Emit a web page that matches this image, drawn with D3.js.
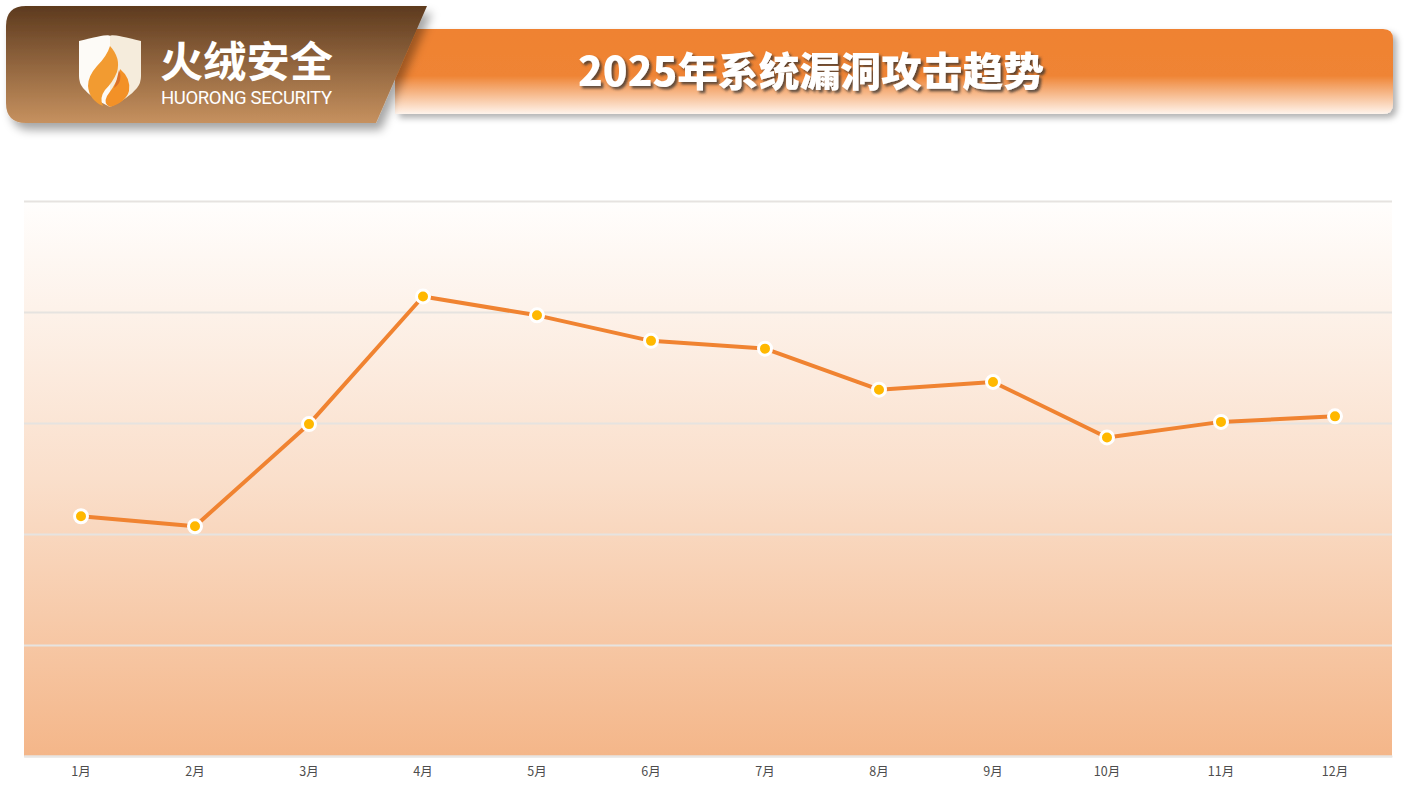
<!DOCTYPE html>
<html>
<head>
<meta charset="utf-8">
<script src="https://cdn.jsdelivr.net/npm/d3@7"></script>
<style>
html,body{margin:0;padding:0;background:#fff;}
svg{display:block;}
</style>
</head>
<body>
<svg id="chart" width="1424" height="795"></svg>
<script>
const months = ["1月","2月","3月","4月","5月","6月","7月","8月","9月","10月","11月","12月"];
const attacks = [216, 207, 299, 414, 397, 374, 367, 330, 337, 287, 301, 306];
const yTicks = [0, 100, 200, 300, 400, 500];
const titleText = "2025年系统漏洞攻击趋势";
const brandCN = "火绒安全";
const brandEN = "HUORONG SECURITY";

const svg = d3.select("#chart");
const defs = svg.append("defs");

// gradients
const g1 = defs.append("linearGradient").attr("id","plotBg").attr("x1",0).attr("y1",0).attr("x2",0).attr("y2",1);
g1.append("stop").attr("offset","0%").attr("stop-color","#fffefd");
g1.append("stop").attr("offset","50%").attr("stop-color","#fadfcb");
g1.append("stop").attr("offset","100%").attr("stop-color","#f4b689");

const g2 = defs.append("linearGradient").attr("id","brownBg").attr("x1",0).attr("y1",0).attr("x2",0).attr("y2",1);
g2.append("stop").attr("offset","0%").attr("stop-color","#5d3a1e");
g2.append("stop").attr("offset","100%").attr("stop-color","#c6915f");

const g3 = defs.append("linearGradient").attr("id","orangeBg").attr("x1",0).attr("y1",0).attr("x2",0).attr("y2",1);
g3.append("stop").attr("offset","0%").attr("stop-color","#ef8232");
g3.append("stop").attr("offset","55%").attr("stop-color","#ef8434");
g3.append("stop").attr("offset","100%").attr("stop-color","#fff4ec");

const f1 = defs.append("filter").attr("id","boxShadow").attr("x","-10%").attr("y","-20%").attr("width","130%").attr("height","160%");
f1.append("feDropShadow").attr("dx",5).attr("dy",7).attr("stdDeviation",5).attr("flood-color","#000").attr("flood-opacity",0.35);

const f2 = defs.append("filter").attr("id","barShadow").attr("x","-5%").attr("y","-20%").attr("width","110%").attr("height","160%");
f2.append("feDropShadow").attr("dx",4).attr("dy",4).attr("stdDeviation",3).attr("flood-color","#000").attr("flood-opacity",0.3);

const f3 = defs.append("filter").attr("id","textShadow").attr("x","-5%").attr("y","-20%").attr("width","110%").attr("height","160%");
f3.append("feDropShadow").attr("dx",2.5).attr("dy",2.5).attr("stdDeviation",1).attr("flood-color","#333").attr("flood-opacity",0.75);

// ---- header ----
const header = svg.append("g");
header.append("path")
  .attr("d", "M395,29 H1383 Q1393,29 1393,39 V104 Q1393,114 1383,114 H395 Z")
  .attr("fill","url(#orangeBg)")
  .attr("filter","url(#barShadow)");

header.append("text")
  .attr("x", 811).attr("y", 86)
  .attr("text-anchor","middle")
  .attr("font-family","'Noto Sans CJK SC', sans-serif")
  .attr("font-weight", 900)
  .attr("font-size", 40)
  .attr("fill","#fff")
  .attr("textLength", 466)
  .attr("lengthAdjust","spacingAndGlyphs")
  .attr("filter","url(#textShadow)")
  .text(titleText);

header.append("path")
  .attr("d", "M26,6 H427 L376,123 H26 Q6,123 6,103 V26 Q6,6 26,6 Z")
  .attr("fill","url(#brownBg)")
  .attr("filter","url(#boxShadow)");

// shield icon
const sh = header.append("g").attr("transform","translate(79,36)");
sh.append("path")
  .attr("d","M0,5 Q31,-3 31,0 V71 Q12,62 4,52 Q0,47 0,40 Z")
  .attr("fill","#fdfbf7");
sh.append("path")
  .attr("d","M31,0 Q31,-3 62,5 V40 Q62,47 58,52 Q50,62 31,71 Z")
  .attr("fill","#f5ecdc");
sh.append("path")
  .attr("d","M31,10 Q42,22 38,36 Q34,46 26,54 Q20,62 24,70 Q10,64 9,50 Q9,40 18,30 Q28,20 31,10 Z")
  .attr("fill","#f29b31");
sh.append("path")
  .attr("d","M41,33 Q52,42 50,55 Q47,66 31,71 Q24,68 28,60 Q34,52 38,44 Q41,38 41,33 Z")
  .attr("fill","#f39127");
sh.append("path")
  .attr("d","M40,34 Q43,40 40,47 Q37,51 35,52 Q38,44 40,34 Z")
  .attr("fill","#d9702a");

header.append("text")
  .attr("x", 160).attr("y", 77)
  .attr("font-family","'Noto Sans CJK SC', sans-serif")
  .attr("font-weight", 700)
  .attr("font-size", 42)
  .attr("fill","#fff")
  .attr("textLength", 173)
  .attr("lengthAdjust","spacingAndGlyphs")
  .text(brandCN);

header.append("text")
  .attr("x", 161).attr("y", 104)
  .attr("font-family","Roboto, 'Noto Sans', sans-serif")
  .attr("font-size", 18.5)
  .attr("fill","#fff")
  .attr("textLength", 171)
  .attr("lengthAdjust","spacing")
  .text(brandEN);

// ---- chart ----
const margin = {left:24, right:1392, top:201, bottom:756};
const x = d3.scaleBand().domain(months).range([margin.left, margin.right]).padding(0);
const y = d3.scaleLinear().domain([0, 500]).range([margin.bottom, margin.top]);

svg.append("rect")
  .attr("x", margin.left).attr("y", margin.top)
  .attr("width", margin.right - margin.left).attr("height", margin.bottom - margin.top)
  .attr("fill","url(#plotBg)");

const grid = svg.append("g")
  .attr("transform", `translate(${margin.left},0)`)
  .call(d3.axisLeft(y).tickValues(yTicks).tickSize(-(margin.right - margin.left)).tickFormat(""));
grid.select(".domain").remove();
grid.selectAll(".tick line").attr("stroke","#e6e3e0").attr("stroke-width",2);

const xAxis = svg.append("g")
  .attr("transform", `translate(0,${margin.bottom})`)
  .call(d3.axisBottom(x).tickSize(0).tickPadding(11));
xAxis.select(".domain").attr("stroke","#e8e6e4").attr("stroke-width",2);
xAxis.selectAll("text")
  .attr("font-family","'Noto Sans CJK SC', sans-serif")
  .attr("font-size", 12.5)
  .attr("fill","#4d4d4d");

const line = d3.line()
  .x((d,i) => x(months[i]) + x.bandwidth()/2)
  .y(d => y(d));
svg.append("path")
  .datum(attacks)
  .attr("d", line)
  .attr("fill","none")
  .attr("stroke","#f08331")
  .attr("stroke-width",4)
  .attr("stroke-linejoin","round");

svg.append("g").selectAll("circle")
  .data(attacks)
  .join("circle")
  .attr("cx",(d,i) => x(months[i]) + x.bandwidth()/2)
  .attr("cy", d => y(d))
  .attr("r", 6.5)
  .attr("fill","#ffb800")
  .attr("stroke","#fff")
  .attr("stroke-width",3);
</script>
</body>
</html>
